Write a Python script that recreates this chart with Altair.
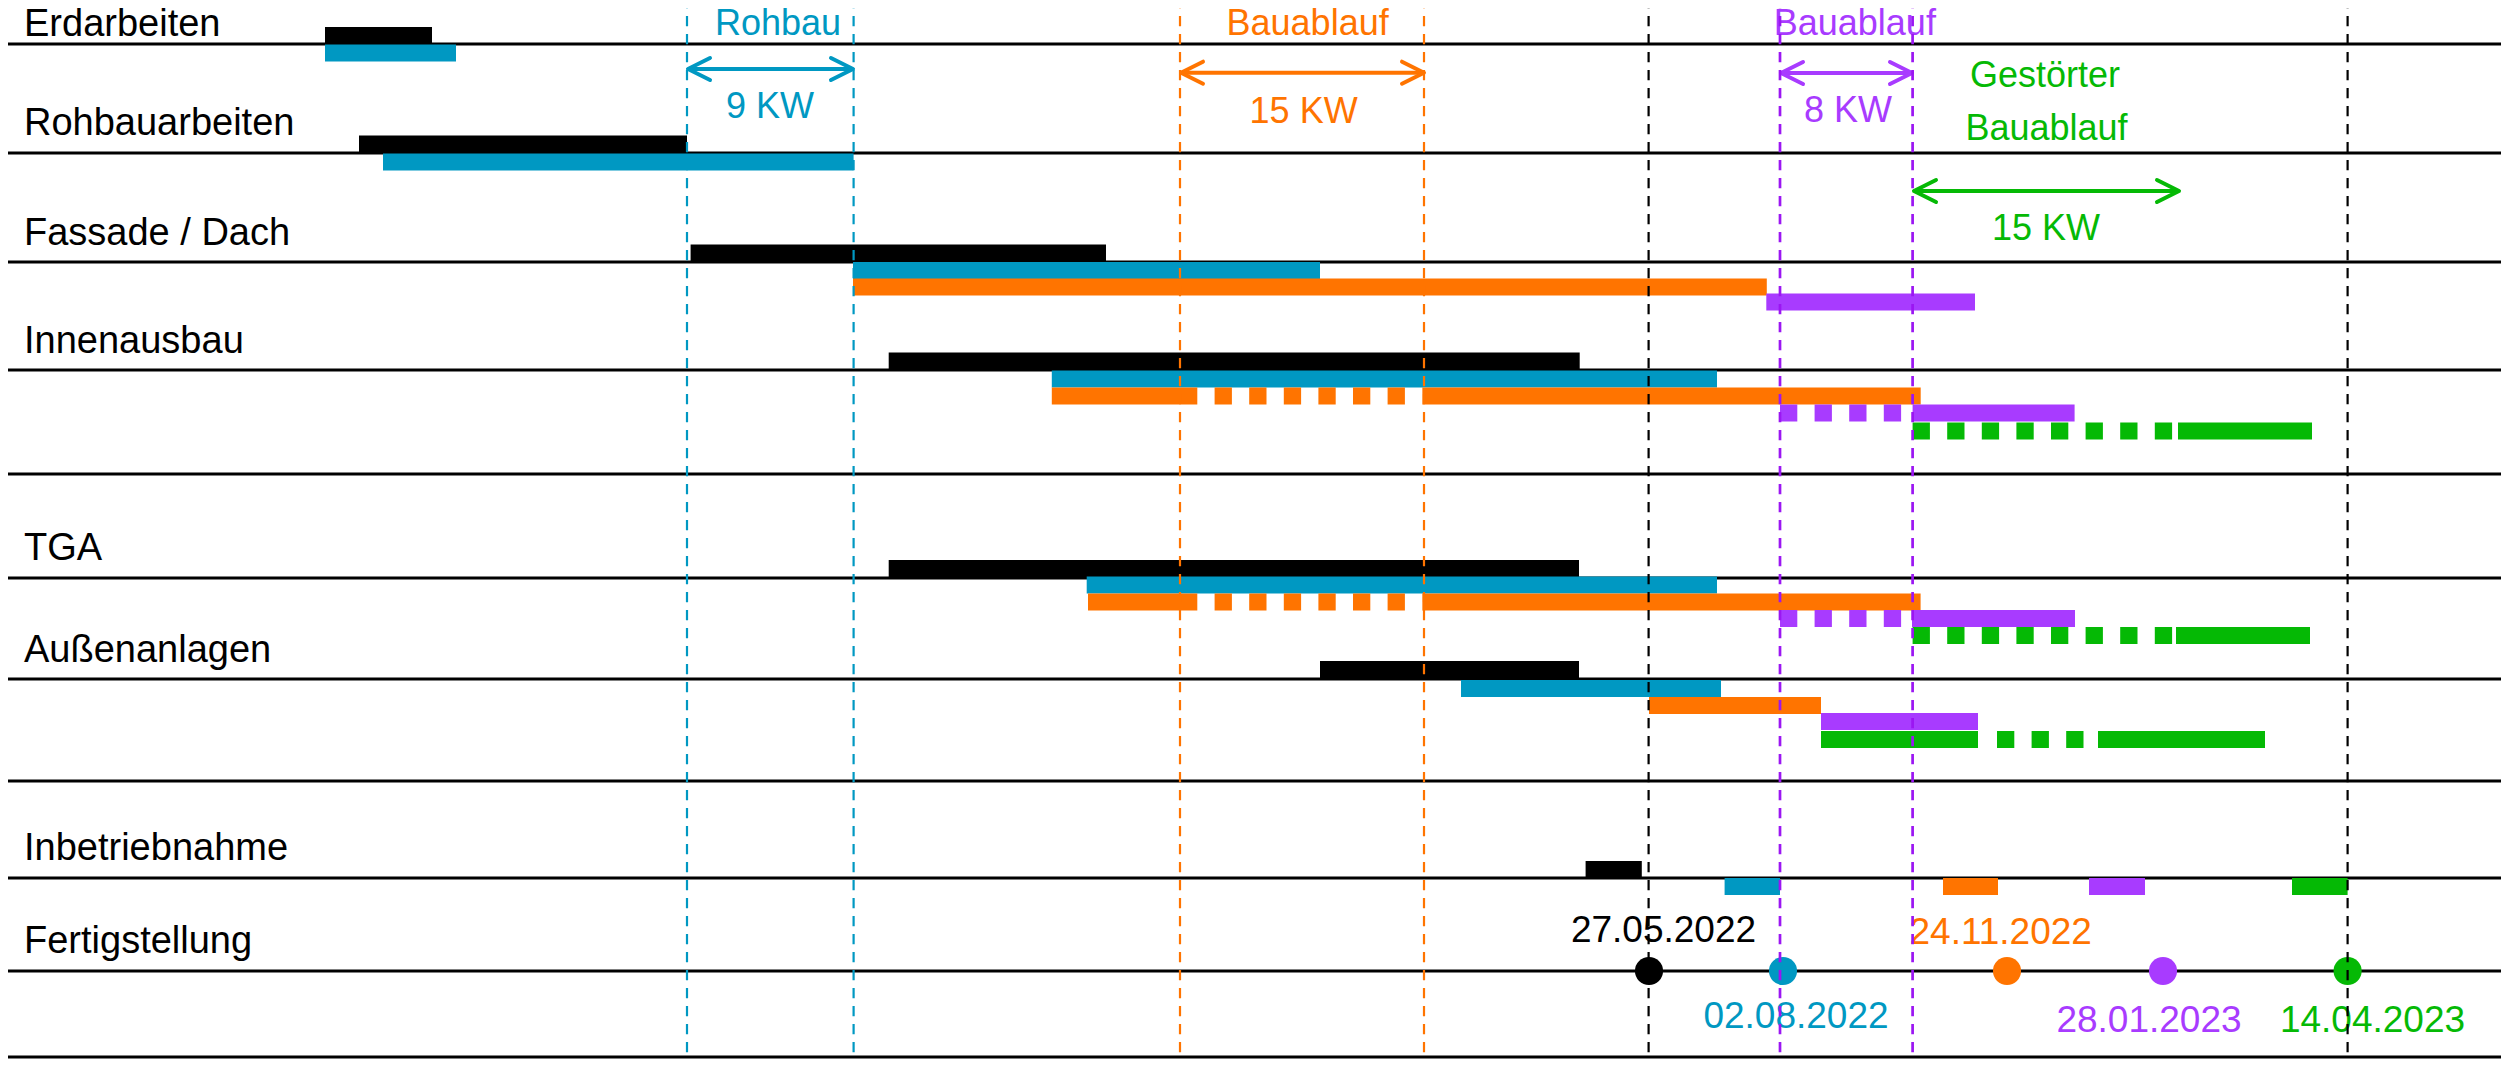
import altair as alt
import pandas as pd

# ---------------- data (positions, in image pixels) -------------
PALETTE_KEYS = ["schwarz", "blau", "orange", "lila", "gruen", "violett"]
PALETTE = ["#000000", "#0098C2", "#FF7400", "#A83BFF", "#05B905", "#9B16F2"]

row_labels = ["Erdarbeiten", "Rohbauarbeiten", "Fassade / Dach", "Innenausbau",
              "TGA", "Außenanlagen", "Inbetriebnahme", "Fertigstellung"]
row_label_x = [24, 24, 24, 24, 24, 24, 24, 24]
row_label_y = [36, 135, 245, 353, 560, 662, 860, 953]

grid_y = [44, 153, 262, 370, 474, 578, 679, 781, 878, 971, 1057]

bar_color = ["schwarz", "blau",
             "schwarz", "blau",
             "schwarz", "blau", "orange", "lila",
             "schwarz", "blau", "orange", "orange", "orange", "lila", "lila", "gruen", "gruen",
             "schwarz", "blau", "orange", "orange", "orange", "lila", "lila", "gruen", "gruen",
             "schwarz", "blau", "orange", "lila", "gruen", "gruen", "gruen",
             "schwarz", "blau", "orange", "lila", "gruen"]
bar_start = [325, 325,
             359, 383,
             690.6, 853, 853, 1766.3,
             888.7, 1051.8, 1051.8, 1180, 1422.6, 1780, 1912.6, 1912.6, 2178,
             888.7, 1086.7, 1088, 1180, 1422.6, 1780, 1912, 1912.6, 2176,
             1320, 1461, 1649, 1821, 1821, 1997, 2098,
             1585.6, 1724.6, 1943, 2089, 2292]
bar_end = [432, 456,
           687, 853.6,
           1106, 1320, 1766.8, 1975,
           1579.7, 1717, 1180, 1422.6, 1920.7, 1912.6, 2074.6, 2178, 2312,
           1579, 1717, 1180, 1422.6, 1920.6, 1912, 2075, 2176, 2310,
           1579, 1721, 1821, 1978, 1978, 2083.5, 2265,
           1641.8, 1780, 1998, 2145, 2347.6]
bar_row = [35.5, 53,
           144, 162,
           253, 270.5, 287, 302,
           361, 379, 396, 396, 396, 413, 413, 431, 431,
           568.5, 585, 602, 602, 602, 618.5, 618.5, 635.5, 635.5,
           669.5, 688.5, 705.5, 721.5, 739.5, 739.5, 739.5,
           869.5, 886.5, 886.5, 886.5, 886.5]
bar_style = ["solid", "solid",
             "solid", "solid",
             "solid", "solid", "solid", "solid",
             "solid", "solid", "solid", "dash", "solid", "dash", "solid", "dash", "solid",
             "solid", "solid", "solid", "dash", "solid", "dash", "solid", "dash", "solid",
             "solid", "solid", "solid", "solid", "solid", "dash", "solid",
             "solid", "solid", "solid", "solid", "solid"]

vline_x = [687, 853.6, 1180, 1424, 1648.6, 2347.6, 1780, 1912.6]
vline_color = ["blau", "blau", "orange", "orange", "schwarz", "schwarz", "violett", "violett"]
vline_width = [2.2, 2.2, 2.2, 2.2, 2.2, 2.2, 2.7, 2.7]

arrow_start = [688, 1181, 1781, 1914]
arrow_end = [853, 1424, 1912, 2179]
arrow_y = [69, 72.7, 73, 191]
arrow_color = ["blau", "orange", "lila", "gruen"]

ann_text = ["Rohbau", "9 KW", "Bauablauf", "15 KW", "Bauablauf", "8 KW",
            "Gestörter", "Bauablauf", "15 KW"]
ann_x = [778, 770, 1307.6, 1303.6, 1854.8, 1848, 2045, 2046.5, 2046]
ann_y = [35, 118, 35, 122.7, 35, 121.7, 87.3, 140, 240]
ann_color = ["blau", "blau", "orange", "orange", "lila", "lila", "gruen", "gruen", "gruen"]

ms_x = [1649, 1783, 2007, 2163, 2347.6]
ms_y = [971, 971, 971, 971, 971]
ms_color = ["schwarz", "blau", "orange", "lila", "gruen"]
ms_label = ["27.05.2022", "02.08.2022", "24.11.2022", "28.01.2023", "14.04.2023"]
ms_label_x = [1663.5, 1796, 2000.7, 2149, 2372.5]
ms_label_y = [941.7, 1027.7, 944, 1031.7, 1031.7]

# ---------------- chart -------------
W, H = 2493, 1051
FONT = "Liberation Sans"

xs = alt.Scale(domain=[8, 8 + W], nice=False, zero=False)
ys = alt.Scale(domain=[8, 8 + H], nice=False, zero=False, reverse=True)
cs = alt.Scale(domain=PALETTE_KEYS, range=PALETTE)


def X(f):
    return alt.X(f, type="quantitative", scale=xs, axis=None)


def Y(f):
    return alt.Y(f, type="quantitative", scale=ys, axis=None)


def C(f):
    return alt.Color(f, type="nominal", scale=cs, legend=None)


grid_df = pd.DataFrame({"y": grid_y, "x1": [7] * len(grid_y), "x2": [2600] * len(grid_y)})
grid = alt.Chart(grid_df).mark_rule(color="#000000", strokeWidth=3).encode(
    x=X("x1"), x2="x2", y=Y("y"))

bars_df = pd.DataFrame({"c": bar_color, "x1": bar_start, "x2": bar_end,
                        "y": bar_row, "s": bar_style})
bars_solid = alt.Chart(bars_df).transform_filter(alt.datum.s == "solid").mark_rule(
    strokeWidth=17, strokeCap="butt").encode(x=X("x1"), x2="x2", y=Y("y"), color=C("c"))
bars_dash = alt.Chart(bars_df).transform_filter(alt.datum.s == "dash").mark_rule(
    strokeWidth=17, strokeCap="butt", strokeDash=[17.3, 17.3]).encode(
    x=X("x1"), x2="x2", y=Y("y"), color=C("c"))

arr_df = pd.DataFrame({"x1": arrow_start, "x2": arrow_end, "y": arrow_y, "c": arrow_color})
arr_shaft = alt.Chart(arr_df).mark_rule(strokeWidth=4).encode(
    x=X("x1"), x2="x2", y=Y("y"), color=C("c"))
arr_left = alt.Chart(arr_df).mark_point(
    shape="M2,-1L0,0L2,1", filled=False, size=484, strokeWidth=4, opacity=1,
    strokeCap="round", strokeJoin="round").encode(x=X("x1"), y=Y("y"), color=C("c"))
arr_right = alt.Chart(arr_df).mark_point(
    shape="M-2,-1L0,0L-2,1", filled=False, size=484, strokeWidth=4, opacity=1,
    strokeCap="round", strokeJoin="round").encode(x=X("x2"), y=Y("y"), color=C("c"))

lab_df = pd.DataFrame({"t": row_labels, "x": row_label_x, "y": row_label_y})
labels = alt.Chart(lab_df).mark_text(
    align="left", baseline="alphabetic", font=FONT, fontSize=38, color="#000000").encode(
    x=X("x"), y=Y("y"), text="t:N")

ann_df = pd.DataFrame({"t": ann_text, "x": ann_x, "y": ann_y, "c": ann_color})
anns = alt.Chart(ann_df).mark_text(
    align="center", baseline="alphabetic", font=FONT, fontSize=36).encode(
    x=X("x"), y=Y("y"), text="t:N", color=C("c"))

ms_df = pd.DataFrame({"x": ms_x, "y": ms_y, "c": ms_color})
dots = alt.Chart(ms_df).mark_circle(size=790, opacity=1).encode(
    x=X("x"), y=Y("y"), color=C("c"))

msl_df = pd.DataFrame({"t": ms_label, "x": ms_label_x, "y": ms_label_y, "c": ms_color})
ms_labels = alt.Chart(msl_df).mark_text(
    align="center", baseline="alphabetic", font=FONT, fontSize=37).encode(
    x=X("x"), y=Y("y"), text="t:N", color=C("c"))

vl_df = pd.DataFrame({"x": vline_x, "c": vline_color, "w": vline_width,
                      "y1": [-20] * len(vline_x), "y2": [1100] * len(vline_x)})
vlines = alt.Chart(vl_df).mark_rule(strokeDash=[10.3, 7.7]).encode(
    x=X("x"), y=Y("y1"), y2="y2", color=C("c"),
    strokeWidth=alt.StrokeWidth("w:Q", scale=None, legend=None))

chart = alt.layer(
    grid, bars_solid, bars_dash, arr_shaft, arr_left, arr_right,
    labels, anns, dots, ms_labels, vlines
).properties(
    width=W, height=H, padding=0, autosize=alt.AutoSizeParams(type="none")
).configure_view(stroke=None)

chart.save("out.html", embed_options={"renderer": "svg", "actions": False})
